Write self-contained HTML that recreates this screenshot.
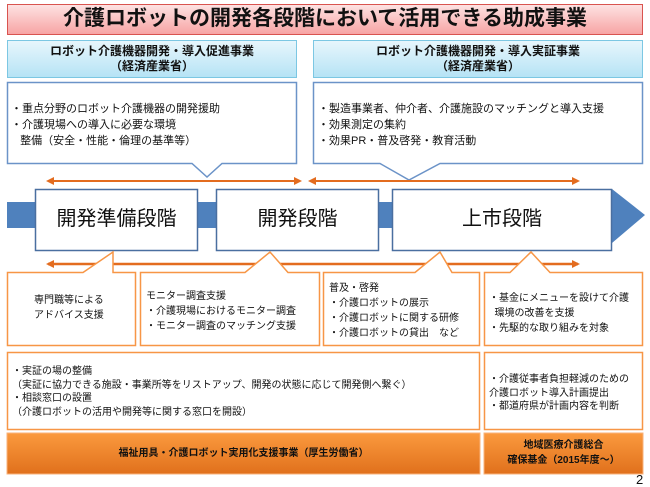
<!DOCTYPE html>
<html><head><meta charset="utf-8"><style>
body{margin:0;width:650px;height:487px;background:#fff;position:relative;overflow:hidden;font-family:"Liberation Sans","Noto Sans CJK JP",sans-serif;color:#111}
.t{position:absolute;white-space:nowrap}
svg{position:absolute;left:0;top:0}
</style></head><body>
<svg width="650" height="487">
<defs>
<linearGradient id="pk" x1="0" y1="0" x2="0" y2="1"><stop offset="0" stop-color="#fde3e3"/><stop offset="1" stop-color="#f7a3a3"/></linearGradient>
<linearGradient id="bl" x1="0" y1="0" x2="0" y2="1"><stop offset="0" stop-color="#e8f6fc"/><stop offset="1" stop-color="#b5e3f5"/></linearGradient>
<linearGradient id="or" x1="0" y1="0" x2="0" y2="1"><stop offset="0" stop-color="#fb9a3e"/><stop offset="1" stop-color="#e0701c"/></linearGradient>
<marker id="ah" markerWidth="8" markerHeight="8" refX="6" refY="4" orient="auto-start-reverse" markerUnits="userSpaceOnUse"><path d="M0,0 L8,4 L0,8 z" fill="#e36c1f"/></marker>
</defs>
<rect x="7.5" y="4.5" width="635" height="30" fill="url(#pk)" stroke="#d9534f"/>
<rect x="7.5" y="40.5" width="289" height="37" fill="url(#bl)" stroke="#7cc7e3"/>
<rect x="313.5" y="40.5" width="329" height="37" fill="url(#bl)" stroke="#7cc7e3"/>
<path d="M7.5,82.5 H296.5 V163.5 H222 L207,177 L192,163.5 H7.5 Z" fill="#fff" stroke="#6b93c8" stroke-width="1.5"/>
<path d="M313.5,82.5 H642.5 V163.5 H440 L409,180 L380,163.5 H313.5 Z" fill="#fff" stroke="#6b93c8" stroke-width="1.5"/>
<line x1="48" y1="181" x2="300" y2="181" stroke="#e36c1f" stroke-width="2" marker-start="url(#ah)" marker-end="url(#ah)"/>
<line x1="310" y1="181" x2="578" y2="181" stroke="#e36c1f" stroke-width="2" marker-start="url(#ah)" marker-end="url(#ah)"/>
<path d="M7,202 H612 V189 L645,215 L612,243 V228 H7 Z" fill="#4f81bd"/>
<rect x="35.5" y="189.5" width="162" height="61" fill="#fff" stroke="#4a6fa0" stroke-width="1.5"/>
<rect x="216.5" y="189.5" width="162" height="61" fill="#fff" stroke="#4a6fa0" stroke-width="1.5"/>
<rect x="392.5" y="189.5" width="219" height="61" fill="#fff" stroke="#4a6fa0" stroke-width="1.5"/>
<line x1="48" y1="264" x2="578" y2="264" stroke="#e36c1f" stroke-width="2.5" marker-start="url(#ah)" marker-end="url(#ah)"/>
<g fill="#fff" stroke="#f79646" stroke-width="1.5">
<path d="M7.5,272.5 H83 L113,252 V272.5 H135.5 V345.5 H7.5 Z"/>
<path d="M140.5,272.5 H245 L270,252 L288,272.5 H319.5 V345.5 H140.5 Z"/>
<path d="M323.5,272.5 H415 L440,252 L452,272.5 H479.5 V345.5 H323.5 Z"/>
<path d="M484.5,272.5 H510 L531,252 L550,272.5 H642.5 V345.5 H484.5 Z"/>
<rect x="7.5" y="352.5" width="472" height="77"/>
<rect x="484.5" y="352.5" width="158" height="77"/>
</g>
<rect x="7" y="433" width="473" height="41" fill="url(#or)" stroke="#f9b27a"/>
<rect x="484" y="433" width="159" height="41" fill="url(#or)" stroke="#f9b27a"/>
</svg>
<div class="t" style="left:7px;width:636px;top:5px;text-align:center;font-size:21px;font-weight:bold;line-height:28px">介護ロボットの開発各段階において活用できる助成事業</div>
<div class="t" style="left:7px;width:290px;top:44px;text-align:center;font-size:12px;font-weight:bold;line-height:15px">ロボット介護機器開発・導入促進事業<br>（経済産業省）</div>
<div class="t" style="left:313px;width:330px;top:44px;text-align:center;font-size:12px;font-weight:bold;line-height:15px">ロボット介護機器開発・導入実証事業<br>（経済産業省）</div>
<div class="t" style="left:11px;top:101px;font-size:11px;line-height:16px">・重点分野のロボット介護機器の開発援助<br>・介護現場への導入に必要な環境<br>&nbsp;&nbsp;&nbsp;整備（安全・性能・倫理の基準等）</div>
<div class="t" style="left:318px;top:101px;font-size:11px;line-height:16px">・製造事業者、仲介者、介護施設のマッチングと導入支援<br>・効果測定の集約<br>・効果PR・普及啓発・教育活動</div>
<div class="t" style="left:35px;width:163px;top:205px;text-align:center;font-size:20px;line-height:28px">開発準備段階</div>
<div class="t" style="left:216px;width:163px;top:205px;text-align:center;font-size:20px;line-height:28px">開発段階</div>
<div class="t" style="left:392px;width:220px;top:205px;text-align:center;font-size:20px;line-height:28px">上市段階</div>
<div class="t" style="left:34px;top:293px;font-size:10px;line-height:15px">専門職等による<br>アドバイス支援</div>
<div class="t" style="left:146px;top:289px;font-size:10px;line-height:15px">モニター調査支援<br>・介護現場におけるモニター調査<br>・モニター調査のマッチング支援</div>
<div class="t" style="left:329px;top:281px;font-size:10px;line-height:15px">普及・啓発<br>・介護ロボットの展示<br>・介護ロボットに関する研修<br>・介護ロボットの貸出　など</div>
<div class="t" style="left:489px;top:291px;font-size:10px;line-height:15px">・基金にメニューを設けて介護<br>&nbsp;&nbsp;環境の改善を支援<br>・先駆的な取り組みを対象</div>
<div class="t" style="left:12px;top:365px;font-size:10px;line-height:13.5px">・実証の場の整備<br>（実証に協力できる施設・事業所等をリストアップ、開発の状態に応じて開発側へ繋ぐ）<br>・相談窓口の設置<br>（介護ロボットの活用や開発等に関する窓口を開設）</div>
<div class="t" style="left:489px;top:373px;font-size:10px;line-height:13.5px">・介護従事者負担軽減のための<br>介護ロボット導入計画提出<br>・都道府県が計画内容を判断</div>
<div class="t" style="left:7px;width:473px;top:447px;text-align:center;font-size:10px;font-weight:bold;line-height:14px">福祉用具・介護ロボット実用化支援事業（厚生労働省）</div>
<div class="t" style="left:484px;width:159px;top:438px;text-align:center;font-size:10px;font-weight:bold;line-height:15px">地域医療介護総合<br>確保基金（2015年度～）</div>
<div class="t" style="left:636px;top:472px;font-size:13px">2</div>
</body></html>
